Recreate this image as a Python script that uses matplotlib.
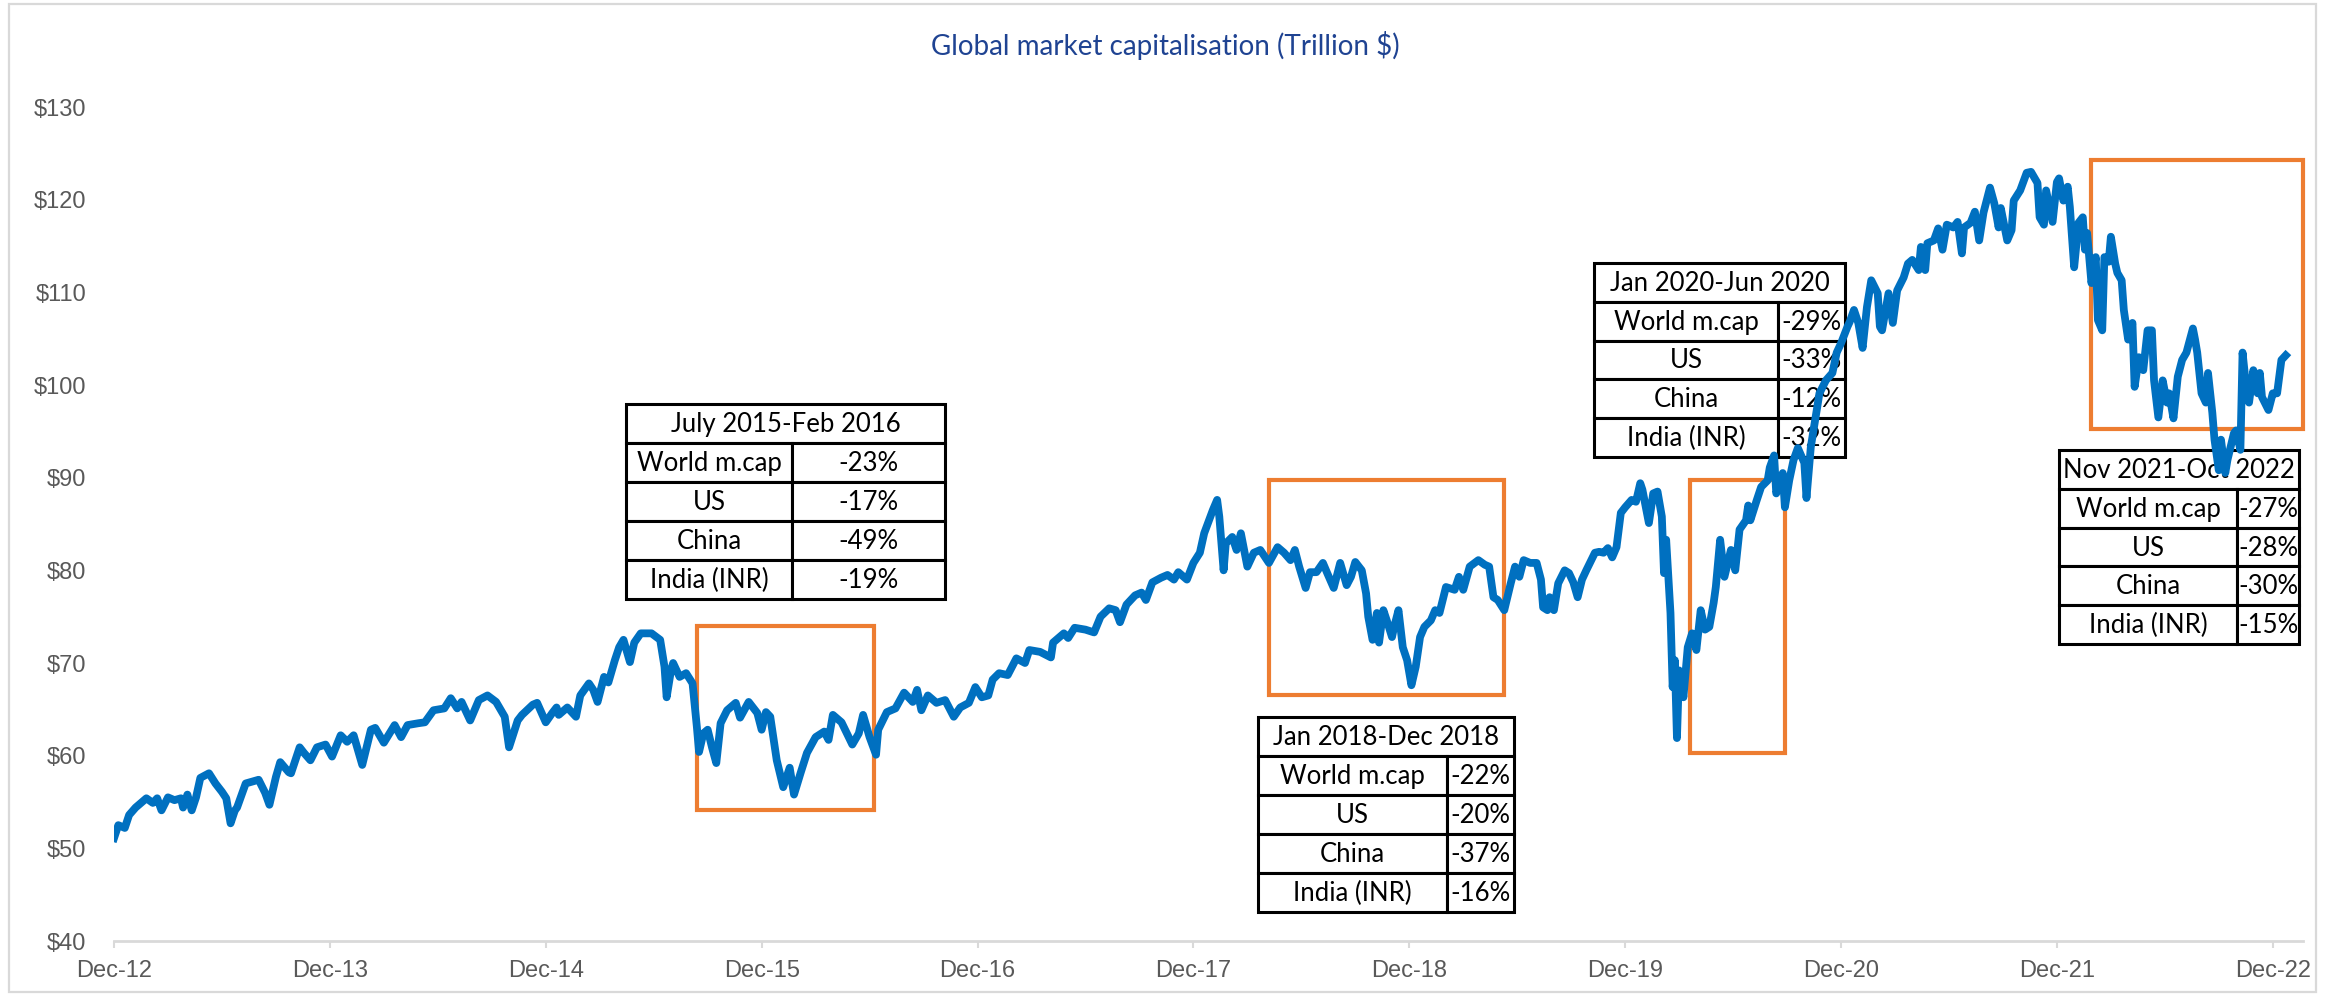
import matplotlib.pyplot as plt
from matplotlib.patches import Rectangle

# canvas size in pixels (dpi 100)
W, H = 2330, 996

title = "Global market capitalisation (Trillion $)"

# weekly-ish readings of world market cap, decimal year -> trillion $
years = [
    2012.92, 2012.94, 2012.97, 2012.99, 2013.02, 2013.07, 2013.10, 2013.12, 2013.14, 2013.17,
    2013.20, 2013.23, 2013.24, 2013.26, 2013.28, 2013.30, 2013.32, 2013.36, 2013.39, 2013.42,
    2013.44, 2013.46, 2013.48, 2013.49, 2013.53, 2013.56, 2013.59, 2013.62, 2013.64, 2013.67,
    2013.69, 2013.73, 2013.74, 2013.78, 2013.80, 2013.83, 2013.86, 2013.90, 2013.93, 2013.97,
    2014.00, 2014.03, 2014.07, 2014.11, 2014.13, 2014.17, 2014.22, 2014.25, 2014.28, 2014.33,
    2014.36, 2014.40, 2014.45, 2014.48, 2014.51, 2014.53, 2014.57, 2014.61, 2014.65, 2014.69,
    2014.73, 2014.75, 2014.79, 2014.81, 2014.86, 2014.88, 2014.92, 2014.95, 2014.97, 2014.98,
    2015.02, 2015.06, 2015.08, 2015.12, 2015.14, 2015.16, 2015.19, 2015.21, 2015.24, 2015.26,
    2015.28, 2015.31, 2015.33, 2015.36, 2015.41, 2015.45, 2015.47, 2015.48, 2015.50, 2015.51,
    2015.54, 2015.57, 2015.60, 2015.62, 2015.63, 2015.65, 2015.67, 2015.69, 2015.71, 2015.73,
    2015.76, 2015.80, 2015.82, 2015.86, 2015.90, 2015.92, 2015.94, 2015.96, 2015.99, 2016.02,
    2016.05, 2016.07, 2016.10, 2016.13, 2016.17, 2016.21, 2016.23, 2016.25, 2016.29, 2016.34,
    2016.37, 2016.39, 2016.42, 2016.45, 2016.46, 2016.50, 2016.54, 2016.58, 2016.62, 2016.64,
    2016.66, 2016.69, 2016.73, 2016.77, 2016.81, 2016.84, 2016.88, 2016.91, 2016.94, 2016.97,
    2016.99, 2017.02, 2017.06, 2017.10, 2017.14, 2017.16, 2017.21, 2017.26, 2017.27, 2017.32,
    2017.34, 2017.37, 2017.42, 2017.46, 2017.49, 2017.53, 2017.56, 2017.58, 2017.61, 2017.65,
    2017.68, 2017.70, 2017.73, 2017.77, 2017.80, 2017.83, 2017.85, 2017.89, 2017.92, 2017.95,
    2017.97, 2018.01, 2018.03, 2018.04, 2018.06, 2018.07, 2018.10, 2018.12, 2018.14, 2018.17,
    2018.20, 2018.23, 2018.27, 2018.31, 2018.34, 2018.37, 2018.39, 2018.41, 2018.44, 2018.46,
    2018.49, 2018.52, 2018.54, 2018.57, 2018.60, 2018.63, 2018.65, 2018.67, 2018.70, 2018.72,
    2018.73, 2018.75, 2018.77, 2018.78, 2018.80, 2018.82, 2018.84, 2018.85, 2018.87, 2018.89,
    2018.91, 2018.93, 2018.95, 2018.97, 2018.99, 2019.02, 2019.04, 2019.06, 2019.09, 2019.13,
    2019.15, 2019.17, 2019.20, 2019.24, 2019.27, 2019.29, 2019.31, 2019.33, 2019.36, 2019.39,
    2019.41, 2019.43, 2019.45, 2019.48, 2019.51, 2019.53, 2019.54, 2019.56, 2019.57, 2019.59,
    2019.61, 2019.64, 2019.66, 2019.68, 2019.70, 2019.72, 2019.74, 2019.78, 2019.80, 2019.82,
    2019.84, 2019.86, 2019.88, 2019.90, 2019.92, 2019.95, 2019.97, 2019.99, 2020.00, 2020.03,
    2020.05, 2020.07, 2020.09, 2020.10, 2020.11, 2020.13, 2020.14, 2020.15, 2020.16, 2020.17,
    2020.19, 2020.21, 2020.23, 2020.25, 2020.27, 2020.29, 2020.31, 2020.33, 2020.34, 2020.36,
    2020.38, 2020.41, 2020.43, 2020.45, 2020.48, 2020.49, 2020.50, 2020.53, 2020.55, 2020.58,
    2020.59, 2020.61, 2020.62, 2020.65, 2020.66, 2020.68, 2020.70, 2020.72, 2020.75, 2020.76,
    2020.78, 2020.80, 2020.82, 2020.85, 2020.88, 2020.90, 2020.92, 2020.95, 2020.96, 2020.98,
    2021.00, 2021.02, 2021.04, 2021.06, 2021.09, 2021.10, 2021.11, 2021.14, 2021.16, 2021.18,
    2021.21, 2021.23, 2021.25, 2021.28, 2021.29, 2021.31, 2021.32, 2021.35, 2021.37, 2021.39,
    2021.41, 2021.44, 2021.46, 2021.48, 2021.49, 2021.52, 2021.54, 2021.56, 2021.58, 2021.61,
    2021.63, 2021.65, 2021.66, 2021.69, 2021.71, 2021.72, 2021.75, 2021.78, 2021.80, 2021.83,
    2021.84, 2021.86, 2021.87, 2021.90, 2021.92, 2021.93, 2021.95, 2021.97, 2021.98, 2022.00,
    2022.02, 2022.04, 2022.05, 2022.06, 2022.08, 2022.10, 2022.11, 2022.13, 2022.14, 2022.16,
    2022.17, 2022.19, 2022.20, 2022.22, 2022.23, 2022.25, 2022.27, 2022.28, 2022.30, 2022.32,
    2022.34, 2022.36, 2022.37, 2022.39, 2022.41, 2022.43, 2022.44, 2022.46, 2022.48, 2022.50,
    2022.52, 2022.55, 2022.56, 2022.57, 2022.59, 2022.61, 2022.62, 2022.64, 2022.65, 2022.67,
    2022.68, 2022.70, 2022.71, 2022.74, 2022.75, 2022.77, 2022.78, 2022.80, 2022.81, 2022.83,
    2022.85, 2022.86, 2022.87, 2022.90, 2022.92, 2022.94, 2022.96, 2022.98,
]
mcap = [
    51.1, 52.5, 52.2, 53.6, 54.4, 55.4, 54.9, 55.4, 54.1, 55.5,
    55.2, 55.4, 54.4, 55.8, 54.1, 55.5, 57.6, 58.1, 57.0, 56.1,
    55.4, 52.7, 54.1, 54.4, 57.0, 57.2, 57.4, 56.0, 54.7, 57.7,
    59.3, 58.2, 58.1, 60.9, 60.3, 59.5, 60.9, 61.2, 59.9, 62.2,
    61.5, 62.2, 59.0, 62.8, 63.0, 61.4, 63.3, 62.0, 63.3, 63.5,
    63.6, 64.9, 65.1, 66.2, 65.1, 65.8, 63.8, 66.0, 66.5, 65.8,
    64.2, 60.9, 63.8, 64.4, 65.5, 65.7, 63.6, 64.6, 65.2, 64.4,
    65.2, 64.2, 66.5, 67.8, 67.1, 65.8, 68.5, 67.9, 70.3, 71.7,
    72.5, 70.1, 72.2, 73.2, 73.2, 72.5, 69.6, 66.3, 69.2, 70.0,
    68.5, 68.9, 67.8, 63.1, 60.4, 62.4, 62.8, 60.9, 59.2, 63.5,
    64.9, 65.7, 64.1, 65.8, 64.6, 62.8, 64.7, 64.2, 59.5, 56.6,
    58.7, 55.8, 58.1, 60.3, 62.0, 62.6, 61.7, 64.4, 63.6, 61.2,
    62.4, 64.4, 62.0, 60.1, 62.8, 64.7, 65.1, 66.8, 65.8, 67.1,
    64.9, 66.5, 65.7, 66.0, 64.2, 65.2, 65.7, 67.4, 66.3, 66.5,
    68.2, 68.9, 68.7, 70.5, 70.0, 71.4, 71.2, 70.6, 72.2, 73.2,
    72.7, 73.8, 73.6, 73.3, 75.0, 75.9, 75.7, 74.4, 76.3, 77.3,
    77.6, 76.8, 78.7, 79.2, 79.5, 79.0, 79.8, 79.0, 80.8, 81.9,
    84.0, 86.5, 87.6, 85.8, 80.0, 82.9, 83.6, 82.2, 84.0, 80.4,
    81.9, 82.2, 80.8, 82.5, 81.9, 81.1, 82.2, 80.4, 78.1, 79.8,
    79.8, 80.8, 79.7, 78.1, 80.8, 78.4, 79.3, 80.9, 80.0, 77.5,
    75.0, 72.5, 75.4, 72.2, 75.7, 74.3, 72.8, 73.9, 75.7, 71.7,
    70.3, 67.6, 69.6, 72.8, 73.9, 74.6, 75.7, 75.4, 78.2, 77.9,
    79.3, 77.9, 80.4, 81.1, 80.6, 80.4, 77.1, 76.8, 75.7, 78.6,
    80.4, 79.3, 81.1, 80.8, 80.8, 79.0, 76.0, 75.7, 77.1, 75.7,
    78.6, 80.0, 79.7, 78.7, 77.1, 79.0, 80.0, 81.9, 82.0, 81.9,
    82.4, 81.4, 82.5, 86.2, 86.8, 87.6, 87.4, 89.4, 88.7, 85.1,
    88.3, 88.5, 85.8, 79.7, 83.3, 75.4, 67.4, 70.3, 61.9, 69.2,
    66.3, 71.7, 73.2, 71.4, 75.7, 73.6, 73.9, 76.5, 78.2, 83.3,
    79.3, 82.2, 80.0, 84.4, 85.4, 87.0, 85.4, 87.6, 89.0, 89.7,
    91.1, 92.4, 88.3, 90.5, 86.8, 89.7, 91.9, 93.2, 91.6, 87.8,
    93.3, 96.2, 99.1, 100.5, 101.3, 103.5, 104.5, 106.3, 106.8, 108.1,
    106.7, 104.0, 108.4, 111.3, 109.9, 106.3, 105.9, 109.9, 106.7, 110.2,
    111.6, 113.1, 113.5, 112.4, 114.9, 112.4, 115.3, 115.6, 116.9, 114.6,
    117.3, 117.0, 117.6, 114.2, 117.0, 117.5, 118.7, 115.6, 118.6, 121.3,
    119.6, 117.0, 119.1, 115.6, 116.7, 119.9, 121.0, 122.9, 123.0, 121.8,
    118.1, 117.3, 121.0, 117.6, 121.9, 122.3, 119.9, 121.4, 119.2, 112.7,
    117.5, 118.1, 114.6, 116.4, 111.0, 113.8, 107.0, 105.9, 113.8, 113.3,
    116.0, 113.1, 112.1, 111.3, 108.1, 104.9, 106.7, 99.8, 103.0, 101.6,
    105.9, 105.9, 100.5, 96.5, 100.5, 98.1, 99.1, 96.4, 100.9, 102.7,
    103.5, 106.1, 104.9, 103.5, 99.1, 98.1, 101.3, 97.0, 94.1, 90.8,
    94.1, 90.5, 91.9, 94.8, 95.1, 93.0, 103.5, 99.1, 98.1, 101.6,
    99.1, 101.3, 98.7, 97.3, 99.1, 99.1, 102.7, 103.2,
]

tick_years = [2012.92 + i for i in range(11)]
tick_labels = ["Dec-12", "Dec-13", "Dec-14", "Dec-15", "Dec-16", "Dec-17",
               "Dec-18", "Dec-19", "Dec-20", "Dec-21", "Dec-22"]
y_ticks = [40, 50, 60, 70, 80, 90, 100, 110, 120, 130]

# orange highlight boxes around each drawdown
box_start = [2015.62, 2018.27, 2020.22, 2022.08]
box_end = [2016.44, 2019.36, 2020.66, 2023.06]
box_low = [54.1, 66.6, 60.3, 95.25]
box_high = [74.0, 89.7, 89.7, 124.3]

table_titles = ["July 2015-Feb 2016", "Jan 2018-Dec 2018", "Jan 2020-Jun 2020", "Nov 2021-Oct 2022"]
row_names = ["World m.cap", "US", "China", "India (INR)"]
world_fall = ["-23%", "-22%", "-29%", "-27%"]
us_fall = ["-17%", "-20%", "-33%", "-28%"]
china_fall = ["-49%", "-37%", "-12%", "-30%"]
india_fall = ["-19%", "-16%", "-32%", "-15%"]

# table placement in pixels: left, top, right, column split, bottom
table_px = [
    (626, 404, 945, 792, 599),
    (1258, 717, 1514, 1447, 912),
    (1594, 263, 1845, 1778, 457),
    (2059, 450, 2299, 2237, 644),
]

AX_L, AX_R, AX_T, AX_B = 114, 2303, 107, 941

BLUE = "#0070C0"
ORANGE = "#ED7D31"
GREY = "#595959"
LIGHT = "#D9D9D9"


def to_ax(px, py):
    return (px - AX_L) / (AX_R - AX_L), (AX_B - py) / (AX_B - AX_T)


def draw_table(ax, pos, head, cells):
    left, top, right, split, bottom = pos
    rh = (bottom - top) / 5
    table_font = dict(family=["Lato", "DejaVu Sans"], fontsize=18.5, color="black",
                      ha="center", va="center", transform=ax.transAxes, zorder=4)

    def cell(x0, y0, x1, y1):
        a0 = to_ax(x0, y1)
        a1 = to_ax(x1, y0)
        ax.add_patch(Rectangle(a0, a1[0] - a0[0], a1[1] - a0[1], transform=ax.transAxes,
                               facecolor="white", edgecolor="black", lw=2.2,
                               zorder=3, clip_on=False))

    cell(left, top, right, top + rh)
    cx, cy = to_ax((left + right) / 2, top + rh / 2 + 1)
    ax.text(cx, cy, head, **table_font)
    for i, (name, val) in enumerate(cells):
        y0 = top + rh * (i + 1)
        cell(left, y0, split, y0 + rh)
        cell(split, y0, right, y0 + rh)
        cx, cy = to_ax((left + split) / 2, y0 + rh / 2 + 1)
        ax.text(cx, cy, name, **table_font)
        cx, cy = to_ax((split + right) / 2, y0 + rh / 2 + 1)
        ax.text(cx, cy, val, **table_font)


fig = plt.figure(figsize=(W / 100, H / 100), dpi=100)
ax = fig.add_axes([AX_L / W, 1 - AX_B / H, (AX_R - AX_L) / W, (AX_B - AX_T) / H])

# light frame round the whole chart
fig.patches.append(Rectangle((9 / W, 4 / H), (2316 - 9) / W, (992 - 4) / H,
                             transform=fig.transFigure, fill=False,
                             edgecolor=LIGHT, lw=1.6))

ax.plot(years, mcap, color=BLUE, lw=5.6, solid_joinstyle="round", zorder=5)

for x0, x1, y0, y1 in zip(box_start, box_end, box_low, box_high):
    ax.add_patch(Rectangle((x0, y0), x1 - x0, y1 - y0, fill=False,
                           edgecolor=ORANGE, lw=3, zorder=4, clip_on=False))

for k in range(4):
    rows = list(zip(row_names, [world_fall[k], us_fall[k], china_fall[k], india_fall[k]]))
    draw_table(ax, table_px[k], table_titles[k], rows)

ax.set_xlim(2012.92, 2023.06)
ax.set_ylim(40, 130)
ax.set_xticks(tick_years)
ax.set_xticklabels(tick_labels)
ax.set_yticks(y_ticks)
ax.set_yticklabels([f"${v}" for v in y_ticks])

for s in ["top", "right", "left"]:
    ax.spines[s].set_visible(False)
ax.spines["bottom"].set_color(LIGHT)
ax.spines["bottom"].set_linewidth(2)
ax.spines["bottom"].set_zorder(2)

ax.tick_params(axis="x", length=5, width=1.5, color=LIGHT, pad=9,
               labelsize=17, labelcolor=GREY)
ax.tick_params(axis="y", length=0, pad=20, labelsize=17, labelcolor=GREY)
for lab in ax.get_xticklabels() + ax.get_yticklabels():
    lab.set_family(["Liberation Sans", "DejaVu Sans"])

fig.text(1165 / W, 1 - 45 / H, title, ha="center", va="center", fontsize=20,
         color="#1F4392", family=["Lato", "DejaVu Sans"])

fig.savefig("out.png", dpi=100)
